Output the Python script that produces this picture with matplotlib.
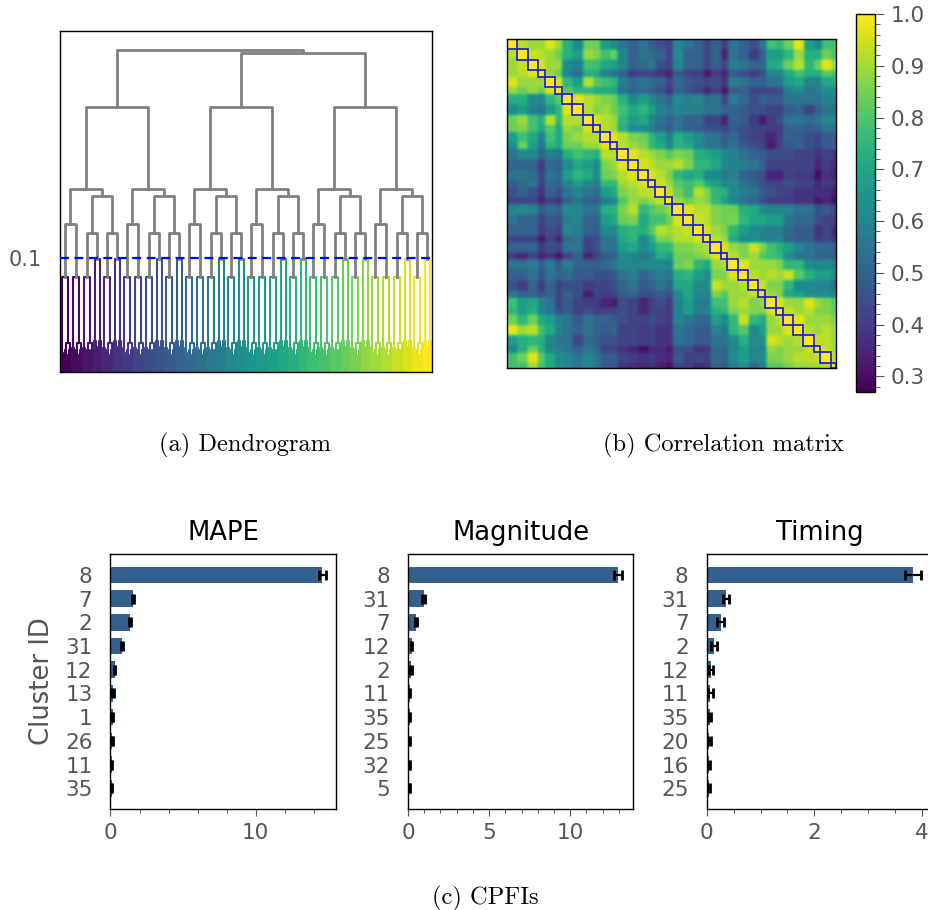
import numpy as np
import matplotlib
matplotlib.use("Agg")
import matplotlib.pyplot as plt
from matplotlib.patches import Rectangle
from matplotlib.ticker import MultipleLocator, FixedLocator

# BAR DATA (CPFI panels)
mape_ids = ["8", "7", "2", "31", "12", "13", "1", "26", "11", "35"]
mape_vals = [14.6, 1.56, 1.35, 0.78, 0.28, 0.16, 0.14, 0.12, 0.07, 0.07]
mape_errs = [0.25, 0.08, 0.08, 0.08, 0.06, 0.06, 0.06, 0.05, 0.04, 0.05]
magn_ids = ["8", "31", "7", "12", "2", "11", "35", "25", "32", "5"]
magn_vals = [12.97, 0.96, 0.49, 0.225, 0.2, 0.1, 0.1, 0.08, 0.08, 0.08]
magn_errs = [0.25, 0.1, 0.07, 0.05, 0.06, 0.05, 0.05, 0.04, 0.04, 0.04]
timing_ids = ["8", "31", "7", "2", "12", "11", "35", "20", "16", "25"]
timing_vals = [3.83, 0.36, 0.26, 0.135, 0.08, 0.07, 0.055, 0.045, 0.04, 0.04]
timing_errs = [0.15, 0.055, 0.06, 0.05, 0.03, 0.05, 0.03, 0.03, 0.03, 0.03]

# DENDROGRAM MERGE HEIGHTS
root_h = 0.2825
upper_h = 0.28
major_h = 0.2325
group_h = 0.1605
right_h = 0.154
pair_a_h = 0.13
pair_b_h = 0.122
big_top = 0.083
small_top = 0.099
arch_h = 0.025
big_left_h = 0.021
big_right_h = 0.019
small_h = 0.027
cut_h = 0.1

# CLUSTER SIZES (leaves per box on the matrix diagonal)
box_sizes = [6, 6, 6, 4, 6, 4] * 5 + [6, 6, 6, 4, 6, 3]

# CORRELATION BETWEEN CLUSTERS, UPPER TRIANGLE, ONE ROW PER CLUSTER
corr_upper = [
    [.92,.89,.89,.96,.89,.73,.62,.84,.84,.68,.62,.55,.50,.55,.48,.45,.42,.60,.55,.50,.42,.50,.40,.55,.50,.45,.55,.78,.75,.84,.97,.68,.60,.78,.78],
    [.94,.92,.89,.84,.73,.68,.89,.86,.78,.84,.60,.50,.55,.52,.50,.42,.62,.50,.50,.42,.50,.35,.55,.50,.40,.50,.68,.68,.75,.89,.73,.73,.84,.78],
    [.96,.89,.89,.62,.58,.78,.78,.71,.68,.60,.50,.52,.55,.45,.42,.60,.50,.50,.42,.50,.42,.58,.55,.50,.50,.71,.73,.84,.92,.75,.84,.97,.89],
    [.89,.84,.60,.55,.73,.71,.58,.55,.50,.40,.42,.42,.38,.35,.48,.42,.40,.32,.40,.35,.48,.45,.40,.45,.60,.60,.71,.78,.73,.73,.81,.78],
    [.96,.75,.68,.92,.81,.78,.75,.58,.52,.55,.52,.50,.42,.52,.48,.45,.42,.45,.38,.58,.55,.50,.50,.55,.55,.68,.71,.60,.60,.71,.71],
    [.81,.75,.75,.71,.71,.71,.55,.50,.52,.50,.45,.38,.50,.45,.42,.35,.42,.32,.48,.50,.42,.42,.42,.45,.58,.60,.55,.58,.62,.62],
    [.97,.92,.89,.86,.84,.73,.62,.68,.60,.55,.50,.62,.58,.60,.52,.55,.42,.58,.52,.45,.50,.48,.48,.55,.55,.55,.55,.60,.60],
    [.92,.86,.89,.84,.78,.71,.75,.68,.60,.55,.60,.60,.58,.55,.55,.50,.50,.48,.45,.45,.42,.42,.48,.50,.42,.50,.55,.55],
    [.96,.92,.89,.75,.68,.71,.60,.55,.50,.55,.50,.50,.42,.42,.35,.50,.48,.40,.33,.40,.45,.55,.55,.52,.55,.60,.60],
    [.92,.89,.73,.62,.62,.58,.52,.48,.55,.50,.48,.45,.45,.42,.48,.45,.42,.42,.40,.40,.50,.50,.48,.50,.55,.55],
    [.97,.92,.86,.84,.75,.68,.58,.73,.68,.62,.55,.55,.48,.52,.45,.42,.40,.35,.42,.50,.48,.45,.42,.48,.48],
    [.92,.89,.86,.75,.71,.62,.73,.71,.62,.55,.55,.50,.55,.48,.45,.42,.33,.42,.48,.50,.45,.42,.48,.48],
    [.97,.92,.89,.86,.81,.86,.84,.73,.71,.68,.62,.60,.55,.50,.48,.45,.45,.45,.42,.42,.38,.42,.38],
    [.96,.92,.89,.89,.92,.86,.75,.75,.71,.60,.60,.58,.55,.50,.42,.42,.42,.42,.42,.35,.40,.36],
    [.96,.92,.86,.75,.71,.73,.62,.62,.55,.60,.50,.48,.45,.35,.35,.42,.40,.40,.30,.38,.35],
    [.94,.89,.81,.78,.81,.73,.68,.60,.62,.55,.50,.45,.42,.42,.45,.42,.42,.35,.40,.38],
    [.94,.84,.78,.92,.86,.75,.73,.62,.58,.55,.48,.45,.42,.42,.38,.38,.36,.36,.33],
    [.89,.84,.89,.86,.75,.68,.60,.55,.50,.45,.40,.40,.40,.38,.38,.32,.35,.30],
    [.97,.92,.92,.86,.84,.84,.73,.71,.62,.60,.60,.60,.55,.55,.45,.48,.42],
    [.94,.92,.86,.84,.86,.75,.71,.71,.68,.68,.55,.52,.52,.45,.42,.40],
    [.96,.89,.86,.75,.68,.62,.60,.58,.58,.52,.48,.48,.38,.42,.35],
    [.92,.89,.71,.62,.62,.60,.58,.60,.50,.48,.48,.40,.42,.38],
    [.96,.89,.86,.94,.86,.78,.73,.68,.60,.55,.52,.52,.50],
    [.92,.86,.89,.81,.78,.75,.62,.55,.55,.50,.50,.48],
    [.97,.89,.89,.89,.86,.75,.75,.62,.60,.62,.58],
    [.92,.89,.92,.89,.94,.81,.73,.68,.68,.62],
    [.94,.86,.86,.75,.62,.62,.60,.60,.52],
    [.89,.86,.71,.68,.62,.60,.62,.58],
    [.96,.89,.89,.96,.89,.86,.81],
    [.94,.89,.92,.86,.86,.81],
    [.97,.89,.89,.89,.86],
    [.92,.89,.92,.89],
    [.94,.92,.89],
    [.94,.89],
    [.92],
]

GRAY = "#555555"
W, H = 929, 910
plt.rcParams["font.size"] = 15
plt.rcParams["axes.linewidth"] = 1.0

fig = plt.figure(figsize=(W / 100, H / 100), dpi=100)


def px_axes(x0, y0, x1, y1):
    return fig.add_axes([x0 / W, 1 - y1 / H, (x1 - x0) / W, (y1 - y0) / H])


# DENDROGRAM
ax = px_axes(60, 31, 432, 372)
cursor = 0.0


def bunch(n, h):
    if n == 1:
        return None
    a = n // 2
    return (h, bunch(a, h * 0.8), bunch(n - a, h * 0.8), 0)


def draw(node, color, lw):
    global cursor
    if node is None:
        x = cursor
        cursor += 1
        return x, 0.0
    h, left, right, gap = node
    xl, hl = draw(left, color, lw)
    cursor += gap
    xr, hr = draw(right, color, lw)
    ax.plot([xl, xl, xr, xr], [hl, h, h, hr], color=color, lw=lw)
    return (xl + xr) / 2, h


def link(a, b, h):
    ax.plot([a[0], a[0], b[0], b[0]], [a[1], h, h, b[1]], color="#808080", lw=2.0)
    return (a[0] + b[0]) / 2, h


cmap = plt.get_cmap("viridis")
tops = []
for i, size in enumerate(box_sizes):
    color = cmap(i / (len(box_sizes) - 1))
    if size == 6:
        node = (big_top, bunch(4, big_left_h),
                (arch_h, bunch(3, big_right_h), bunch(3, big_right_h), 2), 2)
    else:
        node = (small_top, bunch(5, small_h), bunch(5, small_h), 1)
    tops.append(draw(node, color, 1.5))

groups = []
for k in range(0, 36, 6):
    a = link(tops[k], tops[k + 1], pair_a_h)
    b = link(tops[k + 2], tops[k + 3], pair_b_h)
    c = link(tops[k + 4], tops[k + 5], pair_b_h)
    groups.append(link(a, link(b, c, right_h), group_h))
majors = [link(groups[k], groups[k + 1], major_h) for k in range(0, 6, 2)]
rest = link(majors[1], majors[2], upper_h)
link(majors[0], rest, root_h)

ax.axhline(cut_h, color="blue", lw=1.6, ls=(0, (4, 2.5)), zorder=5)
ax.set_xlim(-0.5, cursor - 0.5)
ax.set_ylim(0, 0.299)
ax.set_xticks([])
ax.set_yticks([cut_h])
ax.set_yticklabels(["0.1"], color=GRAY)
ax.tick_params(axis="y", length=0, pad=13)

# CORRELATION MATRIX
n = len(box_sizes)
corr = np.full((n, n), 0.95)
for i, row in enumerate(corr_upper):
    for j, v in enumerate(row):
        corr[i, i + 1 + j] = v
        corr[i + 1 + j, i] = v
expanded = np.repeat(np.repeat(corr, box_sizes, axis=0), box_sizes, axis=1)

# soften the cluster blocks a little, the picture has no hard steps
kernel = np.array([1, 2, 1]) / 4
padded = np.pad(expanded, 1, mode="edge")
padded = np.apply_along_axis(lambda r: np.convolve(r, kernel, mode="same"), 0, padded)
padded = np.apply_along_axis(lambda r: np.convolve(r, kernel, mode="same"), 1, padded)
expanded = padded[1:-1, 1:-1]
start = 0
for size in box_sizes:
    expanded[start:start + size, start:start + size] = 1.0
    start += size

ax = px_axes(507, 39, 836, 368)
im = ax.imshow(expanded, cmap="viridis", vmin=0.271, vmax=1.0, interpolation="bilinear", aspect="auto")
start = 0
for size in box_sizes:
    ax.add_patch(Rectangle((start - 0.5, start - 0.5), size, size, fill=False, edgecolor="#1414e6", lw=1.2))
    start += size
ax.set_xticks([])
ax.set_yticks([])

cax = px_axes(856, 14, 875, 391.5)
cb = fig.colorbar(im, cax=cax)
cb.set_ticks([0.3, 0.4, 0.5, 0.6, 0.7, 0.8, 0.9, 1.0])
cax.yaxis.set_minor_locator(MultipleLocator(0.02))
cax.tick_params(axis="y", which="major", length=6.5, width=0.8, color=GRAY, labelcolor=GRAY, labelsize=15.5, pad=5)
cax.tick_params(axis="y", which="minor", length=3.5, width=0.7, color=GRAY)

# CPFI BAR PANELS
panels = [
    ("MAPE", mape_ids, mape_vals, mape_errs, 110.5, 15.55, [0, 10], 2),
    ("Magnitude", magn_ids, magn_vals, magn_errs, 408, 13.9, [0, 5, 10], 1),
    ("Timing", timing_ids, timing_vals, timing_errs, 706.7, 4.19, [0, 2, 4], 0.5),
]
for title, ids, vals, errs, left, xmax, majors_x, minor in panels:
    ax = px_axes(left, 554, left + 225.5, 808.5)
    pos = np.arange(len(ids))
    ax.barh(pos, vals, height=0.7, color="#35608d", xerr=errs,
            error_kw=dict(ecolor="black", elinewidth=1.6, capsize=3.6, capthick=2.0))
    ax.set_yticks(pos)
    ax.set_yticklabels(ids)
    ax.set_ylim(9.85, -0.88)
    ax.set_xlim(0, xmax)
    ax.xaxis.set_major_locator(FixedLocator(majors_x))
    ax.xaxis.set_minor_locator(MultipleLocator(minor))
    ax.tick_params(axis="x", which="major", length=5, width=0.8, color=GRAY, labelcolor=GRAY, labelsize=15.5, pad=5.5)
    ax.tick_params(axis="x", which="minor", length=2.6, width=0.7, color=GRAY)
    ax.tick_params(axis="y", length=0, labelcolor=GRAY, labelsize=15.5, pad=13)
    ax.set_title(title, fontsize=18.6, pad=10)
    if title == "MAPE":
        ax.set_ylabel("Cluster ID", fontsize=18.6, color=GRAY, labelpad=7)

# CAPTIONS
captions = [("(a) Dendrogram", 245, 445), ("(b) Correlation matrix", 723, 445), ("(c) CPFIs", 485, 898)]
for text, x, y in captions:
    fig.text(x / W, 1 - y / H, text, family="cmr10", fontsize=17.6, ha="center", va="center")

fig.savefig("out.png", dpi=100)
